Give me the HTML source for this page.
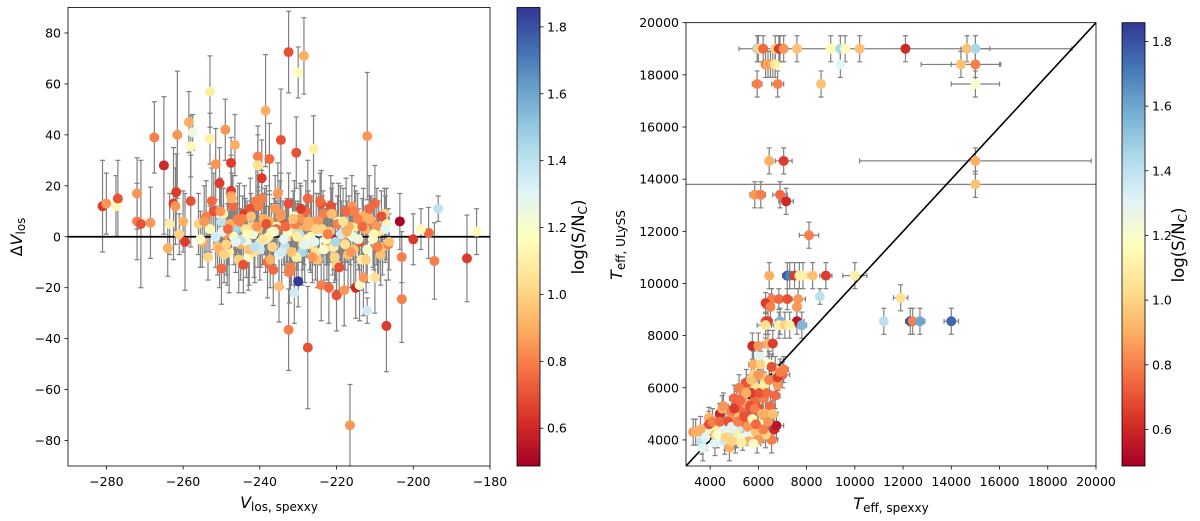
<!DOCTYPE html>
<html><head><meta charset="utf-8"><style>
html,body{margin:0;padding:0;background:#fff;}
svg{display:block;font-family:"DejaVu Sans","Liberation Sans",sans-serif;}
</style></head><body>
<svg id="fig" width="1200" height="521" viewBox="0 0 1200 521" xmlns="http://www.w3.org/2000/svg">
<defs>
<linearGradient id="rdylbu" x1="0" y1="1" x2="0" y2="0">
<stop offset="0" stop-color="#a50026"/><stop offset="0.1" stop-color="#d73027"/><stop offset="0.2" stop-color="#f46d43"/><stop offset="0.3" stop-color="#fdae61"/><stop offset="0.4" stop-color="#fee090"/><stop offset="0.5" stop-color="#ffffbf"/><stop offset="0.6" stop-color="#e0f3f8"/><stop offset="0.7" stop-color="#abd9e9"/><stop offset="0.8" stop-color="#74add1"/><stop offset="0.9" stop-color="#4575b4"/><stop offset="1" stop-color="#313695"/>
</linearGradient>
<clipPath id="clipL"><rect x="68" y="7.5" width="422" height="458.5"/></clipPath>
<clipPath id="clipR"><rect x="686" y="22.7" width="410" height="443.3"/></clipPath>
</defs>
<g id="left"></g>
<g id="right"></g>
</svg>
<script>
// ---------- Left panel data ----------
const lv = [-281,-280,-277.5,-277,-272,-272,-271,-268.5,-267.5,-265,-264,-263.5,-262.5,-262,-261.8,-261.5,-261,-259.5,-260,-258.5,-258,-258,-257.5,-253,-253,-251.5,-250.5,-249,-247.5,-247.5,-246.5,-240.5,-240.5,-239.5,-238.5,-237.5,-234.5,-232.5,-230.5,-230,-228.5,-226,-212,-250,-232.5,-227.5,-216.5,-212,-207,-203,-203,-193.5,-194.5,-186,-196,-183.5,-203.5,-200,-198,-220,-218,-215,-214,-213,-210,-209,-230,-231,-224,-222,-221,-235,
-256,-255,-254,-253,-252,-251,-250,-249,-248,-247,-246,-245,-244,-243,-242,-241,-240,-239,-238,-237,-236,-235,-234,-233,-232,-231,-230,-229,-228,-227,-226,-225,-224,-223,-222,-221,-220,-219,-218,-217,-216,-215,-214,-213,-212,-211,-210,-209,-208,-207,
-255.5,-254.5,-253.5,-252.5,-251.5,-250.5,-249.5,-248.5,-247.5,-246.5,-245.5,-244.5,-243.5,-242.5,-241.5,-240.5,-239.5,-238.5,-237.5,-236.5,-235.5,-234.5,-233.5,-232.5,-231.5,-230.5,-229.5,-228.5,-227.5,-226.5,-225.5,-224.5,-223.5,-222.5,-221.5,-220.5,-219.5,-218.5,-217.5,-216.5,-215.5,-214.5,-213.5,-212.5,-211.5,-210.5,-209.5,-208.5,-207.5,-206.5,
-249.75,-248.75,-247.75,-246.75,-245.75,-244.75,-243.75,-242.75,-241.75,-240.75,-239.75,-238.75,-237.75,-236.75,-235.75,-234.75,-233.75,-232.75,-231.75,-230.75,-229.75,-228.75,-227.75,-226.75,-225.75,-224.75,-223.75,-222.75,-221.75,-220.75,-219.75,-218.75,-217.75,-216.75,-215.75,
-250.3,-249.3,-248.3,-247.3,-246.3,-245.3,-244.3,-243.3,-242.3,-241.3,-240.3,-239.3,-238.3,-237.3,-236.3,-235.3,-234.3,-233.3,-232.3,-231.3,-230.3,-229.3,-228.3,-227.3,-226.3,-225.3,-224.3,-223.3,-222.3,-221.3,-220.3,-219.3,-218.3,-217.3,-216.3,-215.3,-214.3,-213.3,-212.3,-211.3,-210.3,-209.3,-208.3,-207.3,-206.3];
const ld = [12,13,12,15,17,6,5,5.5,39,28,-4.5,5,13,12,17.5,40,1,-2,6,45,14,35.5,41,57,38.5,28.5,21,42,29,18,36,31.5,28,23,49.5,30.5,38,72.5,33,64.5,71,34.5,39.5,-12.5,-36.5,-43.5,-74,-29,-35,-24.5,-8,11,-9.5,-8.5,1.5,2,6,-1,3,-23,-21,-20,-19,-16,-16,-5,-17.5,-22,-19,-20,-1,-19.5,
5,-2,8,3,10,-4,6,1,-6,12,3,-3,9,-8,4,14,-5,7,-10,2,11,-7,5,0,-12,8,3,-6,10,-3,6,-9,13,2,-4,9,-11,5,1,-7,12,4,-2,8,-5,6,13,2,-4,5,
-1,6,-8,14,0,-5,9,-3,16,4,-9,7,-2,11,-6,3,15,-1,6,-13,4,9,-4,13,2,-8,7,-1,15,4,-6,2,9,-3,12,-8,6,-2,10,1,-5,7,-9,3,11,-1,4,-7,9,-3,
2,-3,5,0,7,-1,3,-5,1,4,-2,6,0,-4,3,8,-1,2,-6,5,1,-3,4,0,-2,6,3,-1,2,-4,5,1,-3,4,0,
10,-7,3,15,-2,6,-11,1,8,-4,12,-1,5,-9,2,17,-6,4,-14,7,0,11,-3,6,-8,3,14,-5,1,9,-2,-12,6,2,-6,10,-1,4,-9,7,1,-4,8,3,-2];
const le = [18,12,12,15,14,15,25,14,14,27,11,12,22,15,15,25,8,19,12,12,18,12,7,14,10,14,14,12,10,14,12,12,12,15,22,14,20,16,14,10,15,13,25,14,16,24,16,5,18,17,10,5,15,17,10,9,11,10,8,14,14,12,14,15,14,12,10,12,14,14,14,14,
12,10,14,9,15,11,13,8,16,12,10,14,11,13,9,15,12,10,14,11,13,12,9,15,10,14,11,13,12,10,16,11,13,9,14,12,10,15,11,13,12,14,9,11,13,10,15,12,11,14,
11,14,9,13,12,15,10,16,12,11,13,9,14,12,10,15,11,13,12,14,9,16,10,12,13,11,14,10,15,12,11,13,9,14,12,10,15,11,13,12,14,10,12,9,13,11,15,12,10,14,
10,12,9,11,13,10,12,14,9,11,10,13,12,9,11,14,10,12,13,9,11,10,12,14,9,11,13,10,12,9,11,13,10,12,9,
13,11,14,10,12,15,11,13,9,14,12,10,15,11,13,12,14,10,12,11,13,9,15,12,10,14,11,13,12,10,15,11,13,12,14,10,12,11,13,9,14,12,10,13,11];
const lc = [0.65,0.85,1.15,0.7,0.85,0.8,0.7,0.85,0.8,0.6,0.9,1.1,0.65,0.85,0.65,0.85,1.0,0.65,0.9,0.9,0.7,1.15,1.25,1.1,1.1,0.85,0.65,0.85,0.65,0.65,0.9,0.8,1.05,0.65,0.9,0.75,0.7,0.7,0.7,1.15,0.9,1.1,0.85,0.75,0.8,0.7,0.85,1.35,0.65,0.8,0.8,1.4,0.8,0.65,0.75,1.15,0.5,0.65,1.15,0.7,0.85,0.6,1.2,0.85,1.05,0.7,1.85,1.35,0.8,0.75,0.55,0.95,
1.0,0.9,0.8,1.15,0.7,0.95,1.4,0.85,1.1,0.75,1.5,0.9,0.65,1.2,1.0,0.8,1.35,0.9,0.75,1.1,0.85,1.3,0.7,1.0,0.8,1.15,0.9,1.45,0.75,1.05,0.85,0.95,0.7,1.25,0.9,0.8,1.0,1.35,0.75,0.95,0.85,1.1,0.7,0.9,1.2,0.8,0.75,1.05,0.95,1.15,
1.2,0.85,1.0,0.75,1.35,0.9,1.1,0.65,0.85,1.45,1.0,0.8,1.25,0.7,1.05,0.95,0.8,1.3,0.9,0.75,1.15,0.85,1.4,0.7,1.0,1.1,0.85,1.2,0.75,0.95,1.05,1.3,0.8,0.9,0.7,1.0,1.15,0.85,0.75,1.25,0.95,0.8,1.1,0.9,0.75,1.2,0.85,0.95,1.0,0.8,
1.3,1.0,0.9,1.15,0.8,1.4,1.05,0.95,1.25,0.85,1.35,0.9,1.1,1.0,0.75,0.85,1.3,1.2,0.95,0.8,1.4,1.05,0.9,1.15,1.3,0.85,1.0,1.2,0.95,1.1,0.8,1.35,1.05,0.9,1.25,
0.85,1.0,0.75,0.9,1.3,0.8,0.7,1.15,0.95,1.4,0.8,1.05,0.7,0.9,1.2,0.85,1.35,0.75,0.8,0.95,1.1,0.65,1.3,0.9,0.85,1.0,0.75,1.2,0.8,0.95,1.45,0.7,1.05,0.9,0.85,0.8,1.25,0.75,1.0,0.9,1.15,0.8,0.7,1.3,0.95];
const lxTicks = [-280,-260,-240,-220,-200,-180];
const lyTicks = [-80,-60,-40,-20,0,20,40,60,80];

// ---------- Right panel data ----------
const tSp = [5950,6000,6200,6700,6900,6850,7050,7600,9000,9400,9600,10200,12100,14650,15000,
6300,6400,6500,6600,6700,9400,14400,15000,
5950,6800,8600,15000,
6450,7050,15000,15000,
5850,6100,6900,7150,8100,
6450,7200,7300,7500,7700,7850,8250,8800,10000,
8550,11900,11200,12300,12400,12700,14000,6900,7600,6300,6400,
6550,6850,7200,7650,6300,7600,
3300,3400,3650,3700,3900,3950,3950,4200,4300,4400,4500,4600,4700,4800,4800,4900,5000,5100,5200,5300,5300,5400,5450,5500,5600,5600,5700,5750,5800,5800,5850,5900,5950,6000,6050,6100,6100,6200,6200,6300,6400,6450,6500,6550,6600,6650,6700,6750,6800,6850,7000,7050,7100,7300,7800,6500,4200,4600,5100,5900,6300,5500,4500,5000,6000,5200,5700,6300,4800,
3600,3800,4100,4300,4400,4550,4650,4750,4900,5000,5050,5150,5250,5350,5400,5500,5550,5650,5700,5750,5850,5900,6000,6050,6150,6200,6250,6350,6400,6450,6550,6600,6700,6800,6900,5600,5300,4900,6000,5800];
const tUl = [19000,19000,19000,19000,19000,19000,19000,19000,19000,19000,19000,19000,19000,19000,19000,
18400,18400,18400,18400,18400,18400,18400,18400,
17650,17650,17650,17650,
14700,14700,14700,13800,
13400,13400,13400,13150,11850,
10300,10300,10300,10300,10300,10300,10300,10300,10300,
9500,9450,8550,8550,8550,8550,8550,8550,8550,8550,8550,
9400,9400,9400,9400,9250,9100,
4300,4300,3950,3700,4400,4850,4600,3900,4400,5000,4650,3950,4300,3700,4800,5100,4400,5350,4900,4500,5200,5800,4650,5400,6100,4300,5000,7600,6500,6900,5500,6000,4000,5200,7200,6900,4600,5600,6400,8400,7700,6900,5300,4000,7700,4400,6700,4550,6100,8400,6500,6700,8400,8400,8400,9100,4200,4500,4200,4300,4200,6200,5200,5600,7600,6000,5800,5000,4100,
4400,4100,4700,4200,4700,5300,4100,4700,4500,5200,4000,4700,5500,4100,4900,5800,4500,5300,6300,4800,5200,4600,6500,5800,5000,4400,6100,5800,4700,6300,6800,5000,5700,6400,6600,3950,3900,3950,4000,3850];
const tSpErr = [150,150,150,150,150,150,150,150,150,150,150,150,6900,150,600,
150,150,150,150,150,0,1650,1000,
200,250,150,1000,
150,350,4800,20000,
200,200,300,300,400,
150,200,200,200,200,200,150,250,500,
150,300,150,200,150,200,300,200,300,150,150,
150,200,200,300,150,150,
150,150,150,150,200,150,150,150,200,150,200,150,200,200,150,200,150,200,200,250,150,200,150,200,150,200,250,150,150,200,200,150,250,200,150,200,200,200,200,350,200,150,200,250,150,200,200,300,150,300,300,200,300,250,200,150,200,150,200,150,150,200,150,200,250,200,150,200,150,
200,200,200,200,200,200,200,200,200,200,200,200,200,200,200,200,200,200,200,200,200,200,200,200,200,200,200,200,200,200,200,200,200,200,200,300,300,300,300,300];
const tUlErr = [500,500,500,500,500,500,500,500,500,500,500,500,500,500,500,
500,500,500,500,500,500,500,500,
500,500,500,500,
500,500,500,500,
500,500,500,500,500,
500,500,500,500,500,500,500,500,500,
300,500,500,500,500,500,500,500,500,500,500,
400,400,400,400,400,400,
500,500,500,500,500,400,500,500,500,400,500,500,500,500,500,400,500,500,500,500,400,500,500,500,400,500,500,500,500,500,500,400,500,500,500,500,500,500,500,500,500,500,500,500,500,500,500,500,500,500,500,500,500,500,500,500,500,500,500,500,500,500,500,500,500,500,500,500,500,
500,500,500,500,500,500,500,500,500,500,500,500,500,500,500,500,500,500,500,500,500,500,500,500,500,500,500,500,500,500,500,500,500,500,500,150,150,150,150,150];
const tSn = [1.5,1.0,0.75,1.0,0.55,0.65,0.85,0.95,1.15,1.45,1.15,0.95,0.6,0.95,1.45,
0.8,0.9,0.85,0.9,1.1,1.3,0.95,0.8,
0.8,0.8,0.95,1.2,
0.9,0.65,0.9,0.95,
0.85,0.8,0.75,0.6,0.8,
0.9,1.8,1.7,0.65,1.1,1.1,0.95,0.65,1.1,
1.4,1.05,1.4,1.8,0.8,1.6,1.75,1.55,0.55,0.7,0.65,
0.8,0.75,0.7,0.85,0.65,0.85,
0.85,0.9,1.4,1.3,1.2,0.9,0.7,1.3,1.1,0.6,0.75,1.35,1.15,0.9,0.85,0.8,1.2,0.7,0.95,1.35,0.75,0.8,0.75,0.9,0.85,1.3,0.7,0.6,1.0,0.9,0.75,1.05,0.85,0.7,1.3,1.0,1.15,0.8,0.95,1.05,0.9,1.2,0.75,0.8,0.65,0.6,1.05,0.55,0.85,1.1,0.75,0.8,1.0,1.1,1.55,0.8,0.95,1.3,1.1,0.95,1.0,0.7,0.9,0.75,0.85,0.8,0.65,0.9,1.4,
0.9,1.3,0.8,1.2,0.75,0.85,1.0,0.7,1.3,0.65,1.1,0.8,0.75,1.25,0.7,0.9,0.85,0.7,0.95,1.15,0.8,0.75,0.85,0.7,0.9,0.8,1.1,0.75,0.85,0.8,0.7,0.95,0.75,0.65,0.8,0.9,1.1,1.0,0.85,1.2];
const rTicks = [4000,6000,8000,10000,12000,14000,16000,18000,20000];
const cbTicks = [0.6,0.8,1.0,1.2,1.4,1.6,1.8];

// ---------- helpers ----------
const NS = "http://www.w3.org/2000/svg";
function mk(parent, tag, attrs, text){
  const e = document.createElementNS(NS, tag);
  for (const k in attrs) e.setAttribute(k, attrs[k]);
  if (text !== undefined) e.textContent = text;
  parent.appendChild(e);
  return e;
}
const CMIN = 0.487, CMAX = 1.858;
const stops = [[165,0,38],[215,48,39],[244,109,67],[253,174,97],[254,224,144],[255,255,191],[224,243,248],[171,217,233],[116,173,209],[69,117,180],[49,54,149]];
function cmap(v){
  let t = (v - CMIN) / (CMAX - CMIN); t = Math.max(0, Math.min(1, t));
  const p = t * 10, i = Math.min(9, Math.floor(p)), f = p - i;
  const a = stops[i], b = stops[i+1];
  return "rgb(" + [0,1,2].map(k => Math.round(a[k] + (b[k]-a[k])*f)).join(",") + ")";
}
const xL = v => 68 + (v + 290) / 110 * 422;
const yL = d => 236.75 - d / 90 * 229.25;
const xR = t => 686 + (t - 3000) / 17000 * 410;
const yR = t => 466 - (t - 3000) / 17000 * 443.3;
const RAD = 5;

function colorbar(g, x0, y0, h, labelX, labelY){
  const w = 23;
  const cb = mk(g, "rect", {x:x0, y:y0, width:w, height:h, fill:"url(#rdylbu)", stroke:"#000", "stroke-width":0.8});
  
  
  const cy = v => y0 + h - (v - CMIN) / (CMAX - CMIN) * h;
  cbTicks.forEach(v => {
    const y = cy(v);
    mk(g, "line", {x1:x0+w, x2:x0+w+3.5, y1:y, y2:y, stroke:"#000", "stroke-width":0.8});
    const t = mk(g, "text", {x:x0+w+7, y:y+4.5, "font-size":"12.5"}, v.toFixed(1));
    
    
  });
  const lab = mk(g, "text", {x:labelX, y:labelY, "font-size":"16.5", "text-anchor":"middle", transform:"rotate(-90 "+labelX+" "+labelY+")"});
  lab.innerHTML = 'log(S/N<tspan font-size="12" dy="3">C</tspan><tspan dy="-3">)</tspan>';
  
  
}

function errBar(g, x1, y1, x2, y2, capHoriz){
  mk(g, "line", {x1:x1, y1:y1, x2:x2, y2:y2, stroke:"#808080", "stroke-width":1.2});
  const c = 2.5;
  if (capHoriz){
    mk(g, "line", {x1:x1-c, x2:x1+c, y1:y1, y2:y1, stroke:"#808080", "stroke-width":1.2});
    mk(g, "line", {x1:x2-c, x2:x2+c, y1:y2, y2:y2, stroke:"#808080", "stroke-width":1.2});
  } else {
    mk(g, "line", {x1:x1, x2:x1, y1:y1-c, y2:y1+c, stroke:"#808080", "stroke-width":1.2});
    mk(g, "line", {x1:x2, x2:x2, y1:y2-c, y2:y2+c, stroke:"#808080", "stroke-width":1.2});
  }
}

// ---------- Left panel ----------
const L = document.getElementById("left");
const lPlot = mk(L, "g", {"clip-path":"url(#clipL)"});


const lErr = mk(lPlot, "g", {});


lv.forEach((v,i) => errBar(lErr, xL(v), yL(ld[i]-le[i]), xL(v), yL(ld[i]+le[i]), true));
const zl = mk(lPlot, "line", {x1:68, x2:490, y1:yL(0), y2:yL(0), stroke:"#000", "stroke-width":1.8});


lv.forEach((v,i) => {
  const c = mk(lPlot, "circle", {cx:xL(v), cy:yL(ld[i]), r:RAD, fill:cmap(lc[i])});
  
  
});
const lFrame = mk(L, "rect", {x:68, y:7.5, width:422, height:458.5, fill:"none", stroke:"#000", "stroke-width":0.8});


lxTicks.forEach(v => {
  const x = xL(v);
  mk(L, "line", {x1:x, x2:x, y1:466, y2:469.5, stroke:"#000", "stroke-width":0.8});
  const t = mk(L, "text", {x:x, y:486, "font-size":"12.5", "text-anchor":"middle"}, String(v).replace("-", "\u2212"));
  
  
});
lyTicks.forEach(v => {
  const y = yL(v);
  mk(L, "line", {x1:64.5, x2:68, y1:y, y2:y, stroke:"#000", "stroke-width":0.8});
  const t = mk(L, "text", {x:61, y:y+4.5, "font-size":"12.5", "text-anchor":"end"}, String(v).replace("-", "\u2212"));
  
  
});
const lxl = mk(L, "text", {x:279, y:508, "font-size":"16", "text-anchor":"middle"});
lxl.innerHTML = '<tspan font-style="italic">V</tspan><tspan font-size="12" dy="3">los, spexxy</tspan>';


const lyl = mk(L, "text", {x:22, y:237, "font-size":"16", "text-anchor":"middle", transform:"rotate(-90 22 237)"});
lyl.innerHTML = 'Δ<tspan font-style="italic">V</tspan><tspan font-size="12" dy="3">los</tspan>';


colorbar(L, 517, 7.5, 458.5, 584, 237);

// ---------- Right panel ----------
const R = document.getElementById("right");
const rPlot = mk(R, "g", {"clip-path":"url(#clipR)"});


const rErr = mk(rPlot, "g", {});


tSp.forEach((t,i) => {
  const x = xR(t), y = yR(tUl[i]);
  if (tUlErr[i] > 0) errBar(rErr, x, yR(tUl[i]-tUlErr[i]), x, yR(tUl[i]+tUlErr[i]), true);
  if (tSpErr[i] > 0) errBar(rErr, xR(t-tSpErr[i]), y, xR(t+tSpErr[i]), y, false);
});
const diag = mk(rPlot, "line", {x1:xR(3000), y1:yR(3000), x2:xR(20000), y2:yR(20000), stroke:"#000", "stroke-width":1.6});


tSp.forEach((t,i) => {
  const c = mk(rPlot, "circle", {cx:xR(t), cy:yR(tUl[i]), r:RAD, fill:cmap(tSn[i])});
  
  
});
const rFrame = mk(R, "rect", {x:686, y:22.7, width:410, height:443.3, fill:"none", stroke:"#000", "stroke-width":0.8});


rTicks.forEach(v => {
  const x = xR(v);
  mk(R, "line", {x1:x, x2:x, y1:466, y2:469.5, stroke:"#000", "stroke-width":0.8});
  const t = mk(R, "text", {x:x, y:486, "font-size":"12.5", "text-anchor":"middle"}, String(v));
  
  
  const y = yR(v);
  mk(R, "line", {x1:682.5, x2:686, y1:y, y2:y, stroke:"#000", "stroke-width":0.8});
  const t2 = mk(R, "text", {x:679, y:y+4.5, "font-size":"12.5", "text-anchor":"end"}, String(v));
  
  
});
const rxl = mk(R, "text", {x:891, y:509, "font-size":"16", "text-anchor":"middle"});
rxl.innerHTML = '<tspan font-style="italic">T</tspan><tspan font-size="12" dy="3">eff, spexxy</tspan>';


const ryl = mk(R, "text", {x:622, y:245, "font-size":"16", "text-anchor":"middle", transform:"rotate(-90 622 245)"});
ryl.innerHTML = '<tspan font-style="italic">T</tspan><tspan font-size="12" dy="3">eff, ULySS</tspan>';


colorbar(R, 1122, 22.7, 443.3, 1184, 245);
</script>
</body></html>
